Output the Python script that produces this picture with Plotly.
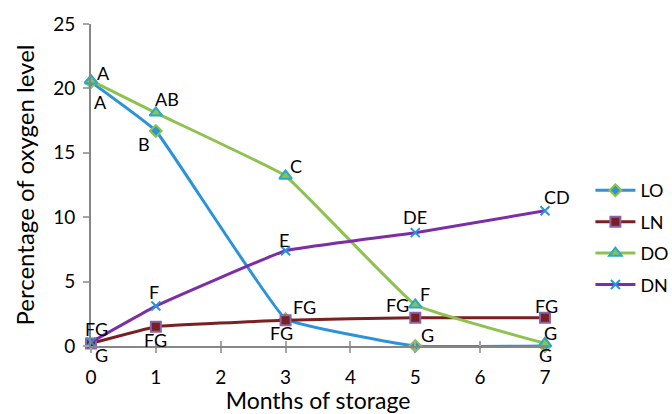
import plotly.graph_objects as go

# Months of storage
months = [0, 1, 3, 5, 7]

# Oxygen level (%) per treatment
lo = [20.5, 16.7, 2.1, 0.0, 0.0]
ln = [0.2, 1.5, 2.0, 2.2, 2.2]
do = [20.6, 18.1, 13.2, 3.2, 0.2]
dn = [0.3, 3.1, 7.4, 8.8, 10.5]

# Significance letters for each point
lo_letters = ["A", "B", "FG", "G", "G"]
ln_letters = ["G", "FG", "FG", "FG", "FG"]
do_letters = ["A", "AB", "C", "F", "G"]
dn_letters = ["FG", "F", "E", "DE", "CD"]

FONT = "Lato, 'Open Sans', sans-serif"

fig = go.Figure()

series = [
    ("LO", lo, dict(color="#2B93DA", width=3),
     dict(symbol="diamond", size=9, color="#2B93DA", line=dict(color="#8CC34A", width=2))),
    ("LN", ln, dict(color="#7A1F22", width=3),
     dict(symbol="square", size=10, color="#7A1F22", line=dict(color="#8A64A8", width=2))),
    ("DO", do, dict(color="#8DC24E", width=3),
     dict(symbol="triangle-up", size=11, color="#8DC24E", line=dict(color="#27A9C9", width=2))),
    ("DN", dn, dict(color="#7D2EA6", width=3),
     dict(symbol="x-thin", size=9, color="#2B93DA", line=dict(color="#2B93DA", width=2))),
]

for name, ys, line, marker in series:
    fig.add_trace(go.Scatter(
        x=months, y=ys, name=name, mode="lines+markers",
        line=dict(shape="spline", smoothing=0.25, **line),
        marker=marker, cliponaxis=False, legendgroup=name,
    ))

# Letter labels: (series values, letters, per-point pixel offsets)
label_sets = [
    (lo, lo_letters, [(9, -20), (-12, -13), (-4, -14), (12, 11), (0, -9)]),
    (ln, ln_letters, [(10, -12), (0, -13), (19, 13), (-18, 13), (1, 12)]),
    (do, do_letters, [(12, 8), (11, 14), (10, 10), (10, 11), (5, 10)]),
    (dn, dn_letters, [(5, 13), (-2, 14), (-2, 11), (0, 16), (12, 14)]),
]
for ys, letters, offs in label_sets:
    for xv, yv, t, (dx, dy) in zip(months, ys, letters, offs):
        fig.add_annotation(x=xv, y=yv, text=t, showarrow=False,
                           xshift=dx, yshift=dy,
                           font=dict(family=FONT, size=18, color="#000000"))

fig.update_layout(
    width=672, height=414,
    margin=dict(l=91, r=127, t=24, b=68, autoexpand=False),
    paper_bgcolor="white", plot_bgcolor="white",
    font=dict(family=FONT, size=18, color="#000000"),
    showlegend=True,
    legend=dict(x=1.10, y=0.54, xanchor="left", yanchor="top",
                traceorder="grouped", tracegroupgap=5,
                font=dict(family=FONT, size=18), itemwidth=40,
                bgcolor="rgba(0,0,0,0)"),
    xaxis=dict(range=[0, 7], tickmode="array", tickvals=list(range(8)),
               showgrid=False, zeroline=False, showline=True,
               linecolor="#868686", linewidth=2,
               ticks="outside", ticklen=5, tickwidth=2, tickcolor="#A6A6A6",
               ticklabelstandoff=8, automargin=False,
               tickfont=dict(size=19),
               title=dict(text="Months of storage", font=dict(size=23), standoff=1)),
    xaxis2=dict(range=[0, 7], overlaying="x", tickmode="array",
                tickvals=list(range(8)), showticklabels=False,
                showgrid=False, zeroline=False, showline=False,
                ticks="inside", ticklen=5, tickwidth=2, tickcolor="#A6A6A6",
                side="bottom", anchor="y"),
    yaxis=dict(range=[0, 25], tickvals=[0, 5, 10, 15, 20, 25],
               showgrid=False, zeroline=False, showline=True,
               linecolor="#868686", linewidth=2,
               ticks="outside", ticklen=6, tickwidth=2, tickcolor="#A6A6A6",
               ticklabelstandoff=4, automargin=False,
               tickfont=dict(size=19),
               title=dict(text="Percentage of oxygen level", font=dict(size=24), standoff=12)),
)

# invisible trace to activate the inner tick axis
fig.add_trace(go.Scatter(x=[0], y=[0], xaxis="x2", mode="markers",
                         marker=dict(opacity=0), showlegend=False, hoverinfo="skip"))

fig.write_html("out.html")
